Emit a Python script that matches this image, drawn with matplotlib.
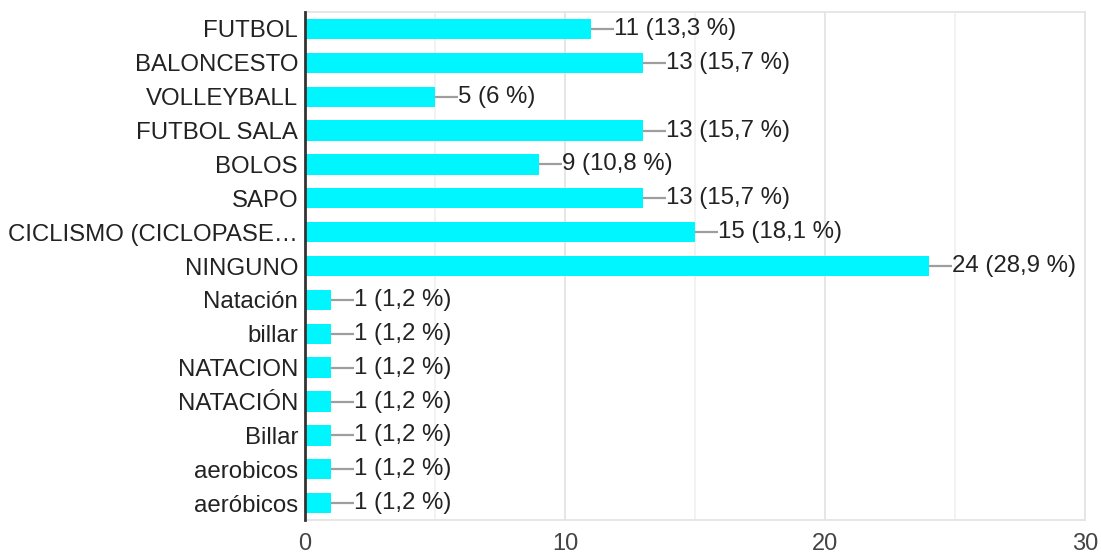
import matplotlib
matplotlib.use("Agg")
import matplotlib.pyplot as plt
from matplotlib.ticker import MultipleLocator

plt.rcParams['font.family'] = ['Liberation Sans', 'DejaVu Sans']

categories = ["FUTBOL", "BALONCESTO", "VOLLEYBALL", "FUTBOL SALA", "BOLOS", "SAPO",
              "CICLISMO (CICLOPASE…", "NINGUNO", "Natación", "billar", "NATACION",
              "NATACIÓN", "Billar", "aerobicos", "aeróbicos"]
counts = [11, 13, 5, 13, 9, 13, 15, 24, 1, 1, 1, 1, 1, 1, 1]
percents = ["13,3", "15,7", "6", "15,7", "10,8", "15,7", "18,1", "28,9",
            "1,2", "1,2", "1,2", "1,2", "1,2", "1,2", "1,2"]
x_ticks = [0, 10, 20, 30]

fig = plt.figure(figsize=(11.01, 5.58), dpi=100)
ax = fig.add_axes([0.277, 0.068, 0.7085, 0.9105])

pos = list(range(len(categories)))
ax.barh(pos, counts, height=0.6, color="#00f6ff", zorder=3)

ax.set_xlim(0, 30)
ax.set_ylim(len(categories) - 0.5, -0.5)

# value labels with a short grey leader line
for y, c, p in zip(pos, counts, percents):
    ax.plot([c, c + 0.9], [y, y], color="#9e9e9e", lw=1.6, zorder=3,
            solid_capstyle="butt", clip_on=False)
    ax.text(c + 0.9, y, f"{c} ({p} %)", va="center", ha="left",
            fontsize=17.3, color="#222222", zorder=4)

ax.set_yticks(pos)
ax.set_yticklabels(categories, fontsize=17.3, color="#222222")
ax.set_xticks(x_ticks)
ax.set_xticklabels([str(t) for t in x_ticks], fontsize=17, color="#444444")
ax.xaxis.set_minor_locator(MultipleLocator(5))
ax.tick_params(axis="x", length=0, pad=9, which="both")
ax.tick_params(axis="y", length=0, pad=5)

ax.grid(axis="x", which="major", color="#e4e4e4", lw=1.3, zorder=0)
ax.grid(axis="x", which="minor", color="#f1f1f1", lw=1.3, zorder=0)

for side in ("top", "right", "bottom"):
    ax.spines[side].set_color("#e4e4e4")
    ax.spines[side].set_linewidth(1.3)
ax.spines["left"].set_color("#333333")
ax.spines["left"].set_linewidth(2)
ax.spines["left"].set_zorder(5)

fig.savefig("out.png", dpi=100)
